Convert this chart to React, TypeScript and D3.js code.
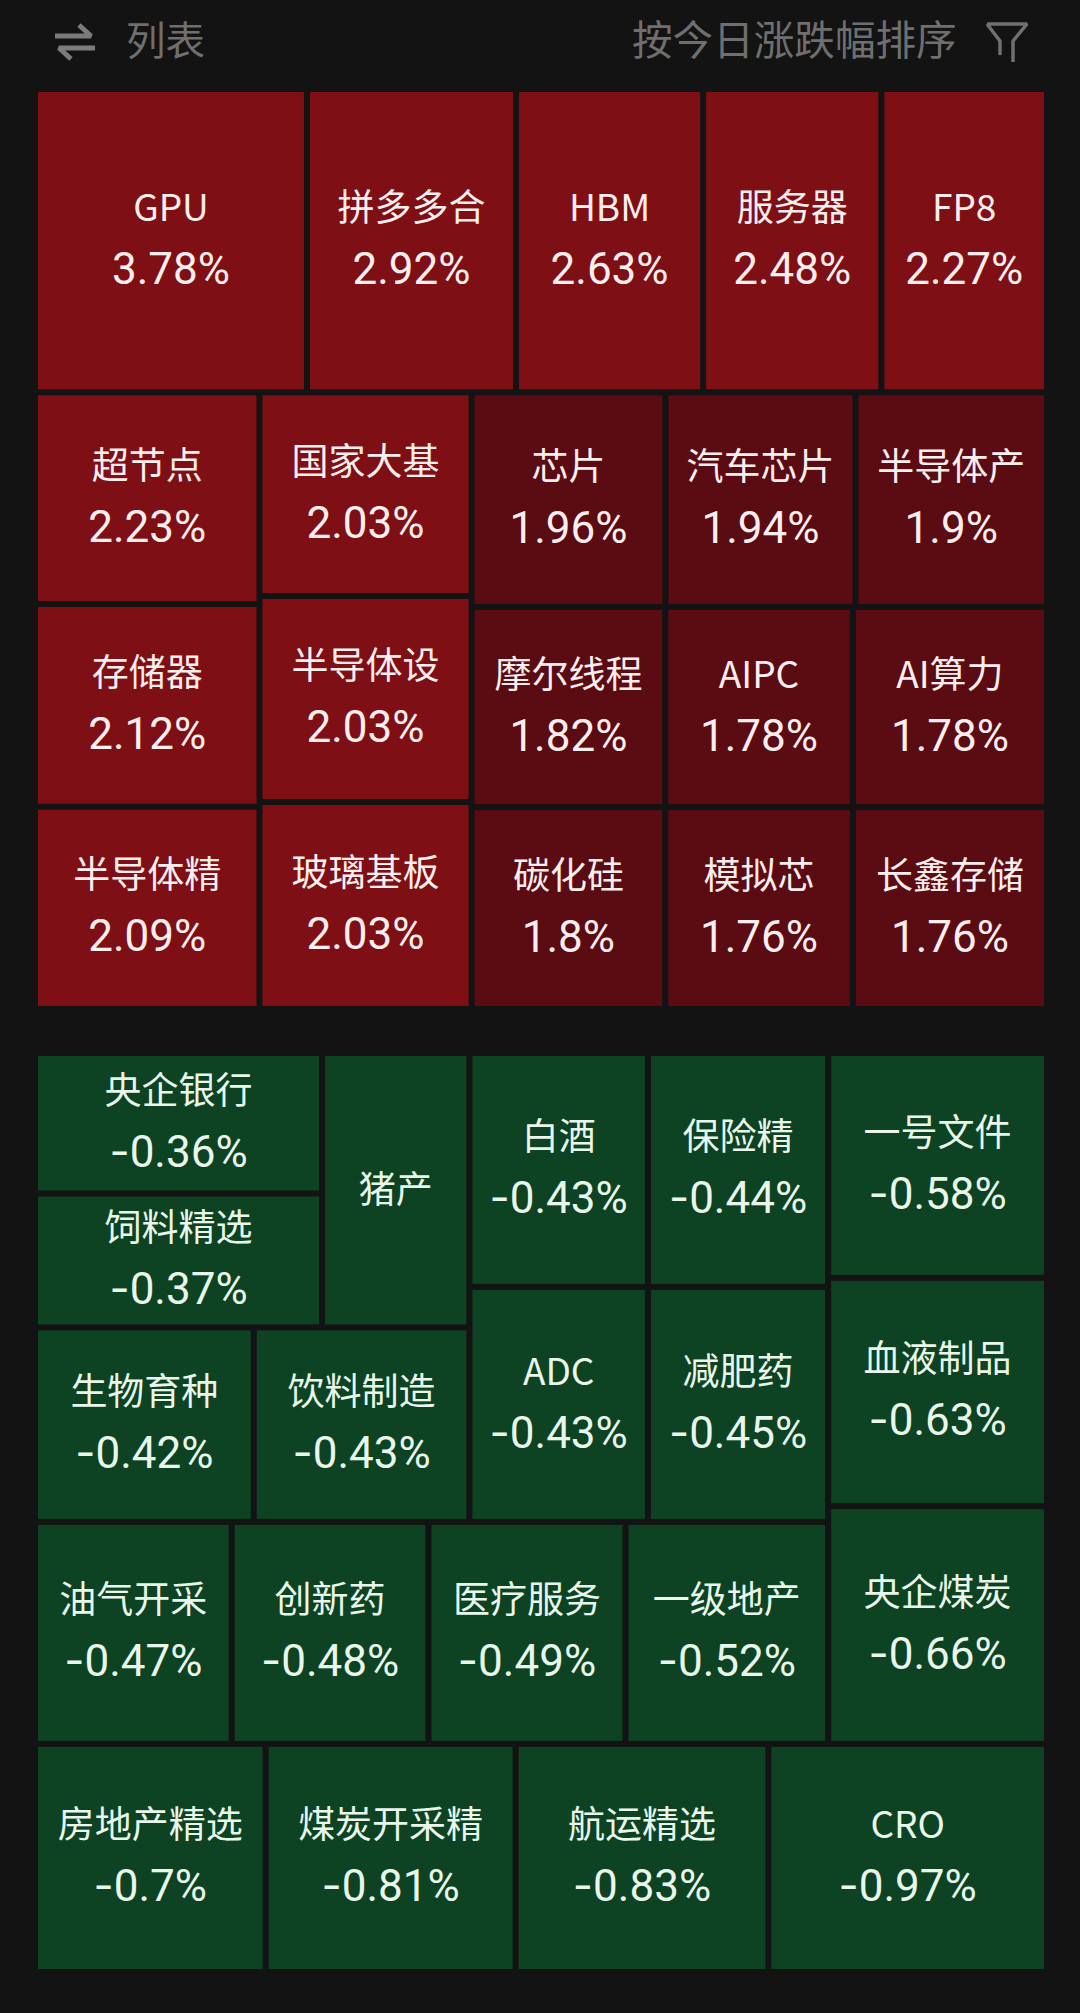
import React from "react";
import * as d3 from "d3";

const W = 1080;
const H = 2013;

// Each group: names, shown percentages, and cell sizes (the hidden size metric).
// ---- gainers ----
const topRowNames = ["GPU", "拼多多合", "HBM", "服务器", "FP8"];
const topRowValues = [3.78, 2.92, 2.63, 2.48, 2.27];
const topRowSizes = [82.1, 63.1, 56.5, 53.8, 50.0];
const midColANames = ["超节点", "存储器", "半导体精"];
const midColAValues = [2.23, 2.12, 2.09];
const midColASizes = [47.3, 45.3, 45.2];
const midColBNames = ["国家大基", "半导体设", "玻璃基板"];
const midColBValues = [2.03, 2.03, 2.03];
const midColBSizes = [43.0, 43.5, 43.7];
const chipRow1Names = ["芯片", "汽车芯片", "半导体产"];
const chipRow1Values = [1.96, 1.94, 1.9];
const chipRow1Sizes = [41.4, 40.6, 40.9];
const chipRow2Names = ["摩尔线程", "AIPC", "AI算力"];
const chipRow2Values = [1.82, 1.78, 1.78];
const chipRow2Sizes = [38.6, 37.4, 38.7];
const chipRow3Names = ["碳化硅", "模拟芯", "长鑫存储"];
const chipRow3Values = [1.8, 1.76, 1.76];
const chipRow3Sizes = [38.9, 37.7, 39.0];

// ---- losers ----
const stackNames = ["央企银行", "饲料精选"];
const stackValues = [-0.36, -0.37];
const stackSizes = [40.1, 38.2];
const hogName = "猪产"; // drawn without a percentage in the picture
const hogSize = 40.2;
const breedNames = ["生物育种", "饮料制造"];
const breedValues = [-0.42, -0.43];
const breedSizes = [42.3, 41.7];
const liquorNames = ["白酒", "保险精"];
const liquorValues = [-0.43, -0.44];
const liquorSizes = [41.5, 41.9];
const drugNames = ["ADC", "减肥药"];
const drugValues = [-0.43, -0.45];
const drugSizes = [41.7, 42.1];
const rightColNames = ["一号文件", "血液制品", "央企煤炭"];
const rightColValues = [-0.58, -0.63, -0.66];
const rightColSizes = [48.9, 49.7, 51.7];
const fourRowNames = ["油气开采", "创新药", "医疗服务", "一级地产"];
const fourRowValues = [-0.47, -0.48, -0.49, -0.52];
const fourRowSizes = [43.4, 43.4, 43.5, 44.7];
const lastRowNames = ["房地产精选", "煤炭开采精", "航运精选", "CRO"];
const lastRowValues = [-0.7, -0.81, -0.83, -0.97];
const lastRowSizes = [52.3, 56.7, 57.3, 63.2];

// ---- header ----
const listLabel = "列表";
const sortLabel = "按今日涨跌幅排序";

type Tree = { name?: string; value?: number | null; size?: number; children?: Tree[] };

const leaves = (names: string[], values: number[], sizes: number[]): Tree[] =>
  names.map((name, i) => ({ name, value: values[i], size: sizes[i] }));

const gainTree: Tree = {
  children: [
    { children: leaves(topRowNames, topRowValues, topRowSizes) },
    {
      children: [
        { children: leaves(midColANames, midColAValues, midColASizes) },
        { children: leaves(midColBNames, midColBValues, midColBSizes) },
        {
          children: [
            { children: leaves(chipRow1Names, chipRow1Values, chipRow1Sizes) },
            { children: leaves(chipRow2Names, chipRow2Values, chipRow2Sizes) },
            { children: leaves(chipRow3Names, chipRow3Values, chipRow3Sizes) },
          ],
        },
      ],
    },
  ],
};

const lossTree: Tree = {
  children: [
    {
      children: [
        {
          children: [
            {
              children: [
                {
                  children: [
                    {
                      children: [
                        { children: leaves(stackNames, stackValues, stackSizes) },
                        { name: hogName, value: null, size: hogSize },
                      ],
                    },
                    { children: leaves(breedNames, breedValues, breedSizes) },
                  ],
                },
                {
                  children: [
                    { children: leaves(liquorNames, liquorValues, liquorSizes) },
                    { children: leaves(drugNames, drugValues, drugSizes) },
                  ],
                },
              ],
            },
            { children: leaves(fourRowNames, fourRowValues, fourRowSizes) },
          ],
        },
        { children: leaves(rightColNames, rightColValues, rightColSizes) },
      ],
    },
    { children: leaves(lastRowNames, lastRowValues, lastRowSizes) },
  ],
};

const alternate = (node: any, x0: number, y0: number, x1: number, y1: number) =>
  (node.depth % 2 === 0 ? d3.treemapSlice : d3.treemapDice)(node, x0, y0, x1, y1);

function layout(tree: Tree, w: number, h: number) {
  const root = d3.hierarchy<Tree>(tree).sum((d) => (d.children ? 0 : (d.size as number)));
  return d3
    .treemap<Tree>()
    .tile(alternate)
    .size([w, h])
    .paddingInner(6)
    .round(false)(root)
    .leaves();
}

const gainColor = d3.scaleThreshold<number, string>().domain([2]).range(["#5b0b12", "#7e1015"]);
const lossColor = () => "#0d4323";

const nameFont = '"Noto Sans CJK SC", sans-serif';
const valueFont = "Roboto, sans-serif";

function Cells({
  nodes,
  color,
  textColor,
  x,
  y,
}: {
  nodes: any[];
  color: (v: number) => string;
  textColor: string;
  x: number;
  y: number;
}) {
  return (
    <g transform={`translate(${x},${y})`}>
      {nodes.map((n, i) => {
        const cx = (n.x0 + n.x1) / 2;
        const cy = (n.y0 + n.y1) / 2;
        const d = n.data as Tree;
        const hasValue = d.value != null;
        return (
          <g key={i}>
            <rect x={n.x0} y={n.y0} width={n.x1 - n.x0} height={n.y1 - n.y0} fill={color(d.value ?? 0)} />
            <text
              x={cx}
              y={hasValue ? cy - 19.5 : cy + 13}
              textAnchor="middle"
              fontFamily={nameFont}
              fontSize={37}
              fill={textColor}
            >
              {d.name}
            </text>
            {hasValue && (
              <text x={cx} y={cy + 43.5} textAnchor="middle" fontFamily={valueFont} fontSize={44} fill={textColor}>
                {(d.value as number) < 0 && <tspan fontFamily="Inter">-</tspan>}
                {Math.abs(d.value as number)}%
              </text>
            )}
          </g>
        );
      })}
    </g>
  );
}

export default function App() {
  const gains = layout(gainTree, 1006, 914);
  const losses = layout(lossTree, 1006, 913);
  return (
    <svg width={W} height={H} viewBox={`0 0 ${W} ${H}`} style={{ position: "absolute", left: 0, top: 0, display: "block" }}>
      <rect width={W} height={H} fill="#131313" />
      {/* header */}
      <g stroke="#7c7c7c" strokeWidth={5} fill="none" strokeLinejoin="bevel">
        <path d="M55 36 H91 L79 25" />
        <path d="M95 48 H59 L71 59" />
      </g>
      <text x={126} y={55} fontFamily={nameFont} fontSize={39.5} fill="#6f6f6f">
        {listLabel}
      </text>
      <text x={632} y={55} fontFamily={nameFont} fontSize={40.6} fill="#6f6f6f">
        {sortLabel}
      </text>
      <path d="M987 24 H1027 L1013 41 V62 M987 24 L1000 41 V55" stroke="#707070" strokeWidth={3.5} fill="none" strokeLinejoin="bevel" />
      <Cells nodes={gains} color={gainColor} textColor="#fbeeef" x={38} y={92} />
      <Cells nodes={losses} color={lossColor} textColor="#e9f6ec" x={38} y={1056} />
    </svg>
  );
}
